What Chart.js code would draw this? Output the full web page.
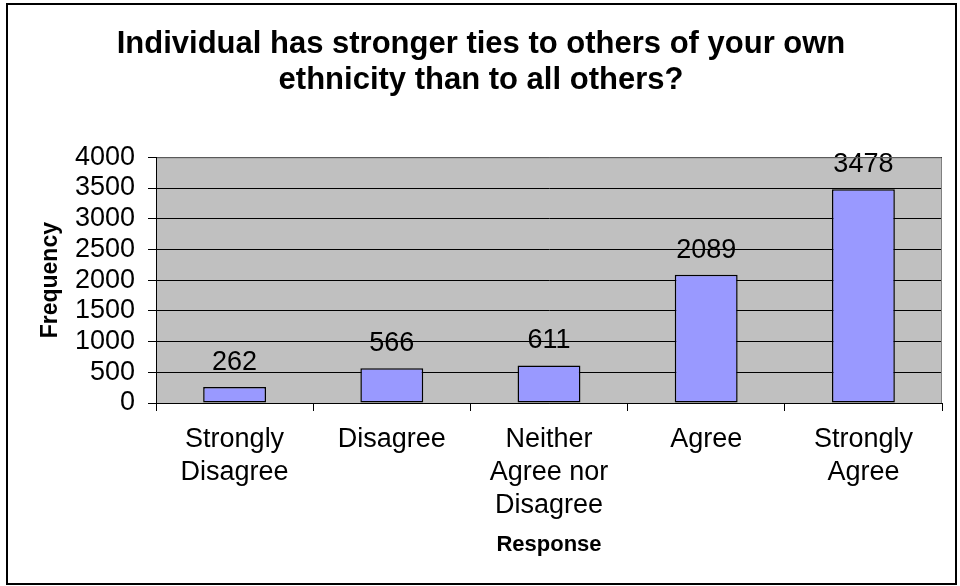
<!DOCTYPE html>
<html>
<head>
<meta charset="utf-8">
<script src="https://cdn.jsdelivr.net/npm/chart.js@4/dist/chart.umd.min.js"></script>
<style>
  html, body { margin: 0; padding: 0; background: #fff; }
  canvas { display: block; }
</style>
</head>
<body>
<canvas id="chart" width="960" height="586"></canvas>
<script>
// ─── DATA ─────────────────────────────────────────────────────
const categories = [
  ['Strongly', 'Disagree'],
  'Disagree',
  ['Neither', 'Agree nor', 'Disagree'],
  'Agree',
  ['Strongly', 'Agree']
];
const frequencies = [262, 566, 611, 2089, 3478];
const yTicks = [0, 500, 1000, 1500, 2000, 2500, 3000, 3500, 4000];

const FONT = "'Liberation Sans', Arial, sans-serif";

// ─── PLUGINS ──────────────────────────────────────────────────
// grey plot area + outer frame, like the old Excel default
const frame = {
  id: 'frame',
  beforeDraw(chart) {
    const { ctx, chartArea: a } = chart;
    ctx.save();
    ctx.fillStyle = '#fff';
    ctx.fillRect(0, 0, chart.width, chart.height);
    ctx.fillStyle = '#c0c0c0';
    ctx.fillRect(a.left, a.top, a.right - a.left, a.bottom - a.top);
    ctx.restore();
  },
  afterDraw(chart) {
    const { ctx, chartArea: a } = chart;
    ctx.save();
    ctx.strokeStyle = '#808080';
    ctx.lineWidth = 1;
    ctx.beginPath();
    ctx.moveTo(a.left + 1, a.top + 0.5);
    ctx.lineTo(a.right - 0.5, a.top + 0.5);
    ctx.lineTo(a.right - 0.5, a.bottom);
    ctx.stroke();
    ctx.strokeStyle = '#000';
    ctx.lineWidth = 2;
    ctx.strokeRect(7, 4, 949, 580);
    ctx.restore();
  }
};

// value labels above the bars
const valueLabels = {
  id: 'valueLabels',
  afterDatasetsDraw(chart) {
    const { ctx } = chart;
    const meta = chart.getDatasetMeta(0);
    ctx.save();
    ctx.font = `27px ${FONT}`;
    ctx.fillStyle = '#000';
    ctx.textAlign = 'center';
    ctx.textBaseline = 'alphabetic';
    meta.data.forEach((bar, i) => {
      ctx.fillText(String(frequencies[i]), bar.x, bar.y - 17);
    });
    ctx.restore();
  }
};

// ─── CHART ────────────────────────────────────────────────────
new Chart(document.getElementById('chart'), {
  type: 'bar',
  data: {
    labels: categories,
    datasets: [{
      data: frequencies,
      backgroundColor: '#9999ff',
      borderColor: '#000',
      borderWidth: 1.5,
      borderSkipped: false,
      categoryPercentage: 1,
      barPercentage: 0.4
    }]
  },
  options: {
    responsive: false,
    animation: false,
    devicePixelRatio: 1,
    layout: { padding: { left: 20, right: 18, top: 0, bottom: 0 } },
    plugins: {
      legend: { display: false },
      tooltip: { enabled: false },
      title: {
        display: true,
        text: ['Individual has stronger ties to others of your own',
               'ethnicity than to all others?'],
        color: '#000',
        font: { family: FONT, size: 31, weight: 'bold', lineHeight: 1.15 },
        padding: { top: 27, bottom: 59 }
      }
    },
    scales: {
      x: {
        offset: true,
        grid: {
          offset: true,
          drawOnChartArea: false,
          drawTicks: true,
          tickLength: 8,
          color: '#000'
        },
        border: { display: true, color: '#000', width: 1 },
        ticks: {
          color: '#000',
          padding: 12,
          maxRotation: 0,
          autoSkip: false,
          font: { family: FONT, size: 27, lineHeight: 1.22 }
        },
        title: {
          display: true,
          text: 'Response',
          color: '#000',
          font: { family: FONT, size: 22, weight: 'bold', lineHeight: 1.2 },
          padding: { top: 0, bottom: 28 }
        },
        afterFit(scale) { scale.height = 183; }
      },
      y: {
        min: 0,
        max: 4000,
        afterBuildTicks(scale) { scale.ticks = yTicks.map(v => ({ value: v })); },
        grid: {
          color: '#000',
          lineWidth: 1,
          tickLength: 8
        },
        border: { display: true, color: '#000', width: 1 },
        ticks: {
          color: '#000',
          padding: 13,
          autoSkip: false,
          callback: v => String(v),
          font: { family: FONT, size: 27 }
        },
        title: {
          display: true,
          text: 'Frequency',
          color: '#000',
          font: { family: FONT, size: 23, weight: 'bold', lineHeight: 1.2 },
          padding: { top: 17, bottom: 0 }
        },
        afterFit(scale) { scale.width = 136; }
      }
    }
  },
  plugins: [frame, valueLabels]
});
</script>
</body>
</html>
